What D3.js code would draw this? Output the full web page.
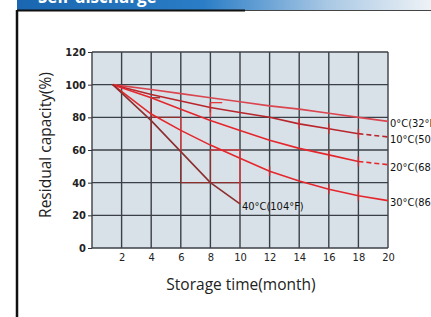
<!DOCTYPE html>
<html>
<head>
<meta charset="utf-8">
<script src="https://cdn.jsdelivr.net/npm/d3@7"></script>
<style>
  body { margin: 0; background: #fff; }
  svg { display: block; }
</style>
</head>
<body>
<div id="chart"></div>
<script>
// Data
const months = [2, 4, 6, 8, 10, 12, 14, 16, 18, 20];
const capacityTicks = [0, 20, 40, 60, 80, 100, 120];

const series0 = [[1.4, 100], [4, 97], [6, 94.5], [8, 92], [10, 89.5], [12, 87], [14, 85], [16, 82.5], [18, 80], [20, 77.5]];
const series10 = [[1.4, 100], [4, 94], [6, 90], [8, 86], [10, 83], [12, 80], [14, 76], [16, 73], [18, 70], [20, 68]];
const series20 = [[1.4, 100], [4, 92], [6, 85], [8, 78], [10, 72], [12, 66], [14, 61], [16, 57], [18, 53], [20, 51]];
const series30 = [[1.4, 100], [4, 82], [6, 72], [8, 63], [10, 55], [12, 47], [14, 41], [16, 36], [18, 32], [20, 29]];
const series40 = [[1.4, 100], [4, 78], [6, 59], [8, 40], [10, 27]];

const seriesNames = ['0°C(32°F)', '10°C(50°F)', '20°C(68°F)', '30°C(86°F)', '40°C(104°F)'];
const seriesColors = ['#d9464f', '#b8262c', '#e4272c', '#e4272c', '#8c2f2f'];
const dashedFrom = [null, 18, 18, null, null];

// reading marks drawn on the scan: [m1, v1, m2, v2]
const guideBrown = [[4, 92, 4, 60], [4, 92, 4.6, 92], [4, 80, 6, 80], [6, 56, 6, 40], [6, 40, 10, 40], [8, 60, 8, 40]];
const guideRed = [[6, 80, 6, 58], [8, 89, 8, 80], [8, 89, 8.8, 89], [8, 60, 10, 60], [10, 60, 10, 27]];
const curveTicks = [[1, [8, 14, 16, 18]], [2, [16, 18]], [3, [12, 16, 18]]];

const W = 431, H = 317;
const svg = d3.select('#chart').append('svg')
  .attr('width', W)
  .attr('height', H);

// header bar
const defs = svg.append('defs');
const grad = defs.append('linearGradient').attr('id', 'hdr');
grad.append('stop').attr('offset', '0%').attr('stop-color', '#1a66b0');
grad.append('stop').attr('offset', '45%').attr('stop-color', '#2a7dc6');
grad.append('stop').attr('offset', '75%').attr('stop-color', '#a9c8e4');
grad.append('stop').attr('offset', '100%').attr('stop-color', '#eef2f6');

svg.append('rect')
  .attr('x', 17).attr('y', 0)
  .attr('width', W - 17).attr('height', 10)
  .attr('fill', 'url(#hdr)');

svg.append('text')
  .attr('x', 38).attr('y', 3)
  .attr('fill', '#fff')
  .style('font-family', 'Open Sans, sans-serif')
  .style('font-weight', 'bold')
  .style('font-size', '17px')
  .text('Self-discharge');

svg.append('line')
  .attr('x1', 17).attr('x2', 245).attr('y1', 10.5).attr('y2', 10.5)
  .attr('stroke', '#111').attr('stroke-width', 2);
svg.append('line')
  .attr('x1', 245).attr('x2', W).attr('y1', 10.5).attr('y2', 10.5)
  .attr('stroke', '#444').attr('stroke-width', 1);
svg.append('line')
  .attr('x1', 17).attr('x2', 17).attr('y1', 10).attr('y2', H)
  .attr('stroke', '#111').attr('stroke-width', 2.5);

// Scales
const x = d3.scaleLinear().domain([0, 20]).range([92, 388]);
const y = d3.scaleLinear().domain([0, 120]).range([248, 52]);

// plot background
svg.append('rect')
  .attr('x', x(0)).attr('y', y(120))
  .attr('width', x(20) - x(0)).attr('height', y(0) - y(120))
  .attr('fill', '#d9e1e8');

// grid
const grid = svg.append('g').attr('stroke', '#3b4046').attr('stroke-width', 1.4);
grid.selectAll('.vg').data([0].concat(months)).join('line')
  .attr('x1', d => x(d)).attr('x2', d => x(d))
  .attr('y1', y(0)).attr('y2', y(120));
grid.selectAll('.hg').data(capacityTicks).join('line')
  .attr('x1', x(0)).attr('x2', x(20))
  .attr('y1', d => y(d)).attr('y2', d => y(d));

// Axes
const tickFont = 'DejaVu Sans Condensed, Liberation Sans Narrow, sans-serif';
const yAxis = d3.axisLeft(y).tickValues(capacityTicks).tickSize(4).tickPadding(2);
const yAxisGroup = svg.append('g')
  .attr('transform', `translate(${x(0)}, 0)`)
  .call(yAxis);
yAxisGroup.select('.domain').remove();
yAxisGroup.selectAll('line').attr('stroke', '#333');
yAxisGroup.selectAll('text')
  .style('font-family', tickFont)
  .style('font-size', '11px')
  .style('font-weight', 'bold')
  .attr('fill', '#222');

const xAxis = d3.axisBottom(x).tickValues(months).tickSize(0).tickPadding(5);
const xAxisGroup = svg.append('g')
  .attr('transform', `translate(0, ${y(0)})`)
  .call(xAxis);
xAxisGroup.select('.domain').remove();
xAxisGroup.selectAll('text')
  .style('font-family', tickFont)
  .style('font-size', '11px')
  .attr('fill', '#222');

// guide marks
const guides = svg.append('g').attr('stroke-width', 1.3);
guides.selectAll('.gb').data(guideBrown).join('line')
  .attr('stroke', '#8c2f2f')
  .attr('x1', d => x(d[0])).attr('y1', d => y(d[1]))
  .attr('x2', d => x(d[2])).attr('y2', d => y(d[3]));
guides.selectAll('.gr').data(guideRed).join('line')
  .attr('stroke', '#e4383c')
  .attr('x1', d => x(d[0])).attr('y1', d => y(d[1]))
  .attr('x2', d => x(d[2])).attr('y2', d => y(d[3]));

// Line function
const line = d3.line()
  .x(d => x(d[0]))
  .y(d => y(d[1]));

const allSeries = [series0, series10, series20, series30, series40];
allSeries.forEach(function(s, i) {
  const cut = dashedFrom[i];
  const solid = cut == null ? s : s.filter(d => d[0] <= cut);
  svg.append('path')
    .attr('d', line(solid))
    .attr('fill', 'none')
    .attr('stroke', seriesColors[i])
    .attr('stroke-width', 1.6);
  if (cut != null) {
    svg.append('path')
      .attr('d', line(s.filter(d => d[0] >= cut)))
      .attr('fill', 'none')
      .attr('stroke', seriesColors[i])
      .attr('stroke-width', 1.6)
      .attr('stroke-dasharray', '5,3');
  }
  const last = s[s.length - 1];
  svg.append('text')
    .attr('x', x(last[0]) + 2)
    .attr('y', y(last[1]) + 2)
    .attr('dy', '0.35em')
    .style('font-family', tickFont)
    .style('font-size', '11px')
    .attr('fill', '#111')
    .text(seriesNames[i]);
});

// small ticks on curves
curveTicks.forEach(function(ct) {
  const s = allSeries[ct[0]];
  ct[1].forEach(function(m) {
    const v = s.find(d => d[0] === m)[1];
    svg.append('line')
      .attr('x1', x(m)).attr('x2', x(m))
      .attr('y1', y(v + 3)).attr('y2', y(v - 3))
      .attr('stroke', '#c42a2f')
      .attr('stroke-width', 1.4);
  });
});

// axis titles
svg.append('text')
  .attr('transform', `translate(51, 145) rotate(-90)`)
  .attr('text-anchor', 'middle')
  .style('font-family', 'Open Sans, sans-serif')
  .style('font-size', '15.5px')
  .attr('fill', '#222')
  .text('Residual capacity(%)');

svg.append('text')
  .attr('x', 241).attr('y', 290)
  .attr('text-anchor', 'middle')
  .style('font-family', 'Open Sans, sans-serif')
  .style('font-size', '15.5px')
  .attr('fill', '#222')
  .text('Storage time(month)');
</script>
</body>
</html>
